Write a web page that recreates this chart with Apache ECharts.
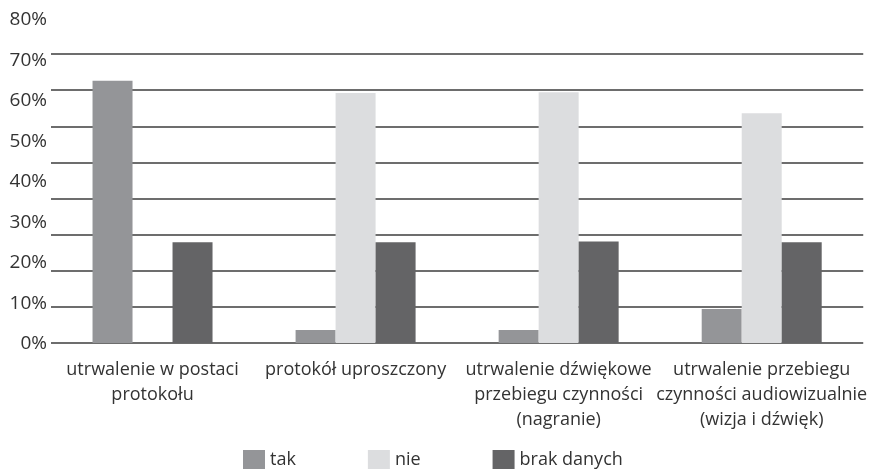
<!DOCTYPE html>
<html>
<head>
<meta charset="utf-8">
<script src="https://cdn.jsdelivr.net/npm/echarts@6/dist/echarts.min.js"></script>
<style>
    html, body { margin: 0; padding: 0; background: #fff; }
    #chart { width: 870px; height: 473px; }
</style>
</head>
<body>
<div id="chart"></div>
<script>
var categories = [
    'utrwalenie w postaci\nprotokołu',
    'protokół uproszczony',
    'utrwalenie dźwiękowe\nprzebiegu czynności\n(nagranie)',
    'utrwalenie przebiegu\nczynności audiowizualnie\n(wizja i dźwięk)'
];
var seriesNames = ['tak', 'nie', 'brak danych'];
var takValues = [72.6, 3.6, 3.6, 9.4];
var nieValues = [0, 69.2, 69.4, 63.6];
var brakValues = [27.9, 27.9, 28.1, 27.9];
var yTicks = [0, 10, 20, 30, 40, 50, 60, 70, 80];

var colors = ['#949598', '#dcdddf', '#646466'];
var fontFamily = '"Open Sans", "Noto Sans", sans-serif';

var myChart = echarts.init(document.getElementById('chart'));
var option = {
    backgroundColor: '#fff',
    color: colors,
    animation: false,
    textStyle: { fontFamily: fontFamily },
    legend: {
        data: seriesNames,
        left: 238,
        top: 445,
        itemWidth: 22,
        itemHeight: 19,
        itemGap: 72,
        icon: 'rect',
        textStyle: { color: '#333', fontSize: 18, fontFamily: fontFamily }
    },
    grid: [{
        // plot area (bars + gridlines)
        left: 51,
        right: 5,
        top: 54,
        bottom: 130
    }, {
        // tick labels sit on their own scale, as in the source
        left: 48,
        width: 10,
        top: 20,
        bottom: 129
    }],
    xAxis: [{
        type: 'category',
        gridIndex: 0,
        data: categories,
        axisTick: { show: false },
        axisLine: { show: false },
        axisLabel: {
            color: '#333',
            fontSize: 18,
            lineHeight: 25,
            margin: 14,
            interval: 0
        }
    }, {
        type: 'category',
        gridIndex: 1,
        data: [''],
        show: false
    }],
    yAxis: [{
        type: 'value',
        gridIndex: 0,
        min: 0,
        max: 80,
        interval: 10,
        axisLine: { show: false },
        axisTick: { show: false },
        axisLabel: { show: false },
        splitLine: {
            lineStyle: { color: '#3c3c3c', width: 1.6 }
        }
    }, {
        type: 'value',
        gridIndex: 1,
        min: yTicks[0],
        max: yTicks[yTicks.length - 1],
        interval: 10,
        axisLine: { show: false },
        axisTick: { show: false },
        splitLine: { show: false },
        axisLabel: {
            color: '#333',
            fontSize: 19,
            margin: 1,
            formatter: '{value}%'
        }
    }],
    series: [{
        name: seriesNames[0],
        type: 'bar',
        barWidth: 40,
        barGap: '0%',
        data: takValues
    }, {
        name: seriesNames[1],
        type: 'bar',
        barWidth: 40,
        barGap: '0%',
        data: nieValues
    }, {
        name: seriesNames[2],
        type: 'bar',
        barWidth: 40,
        barGap: '0%',
        data: brakValues
    }]
};
myChart.setOption(option, true);
</script>
</body>
</html>
